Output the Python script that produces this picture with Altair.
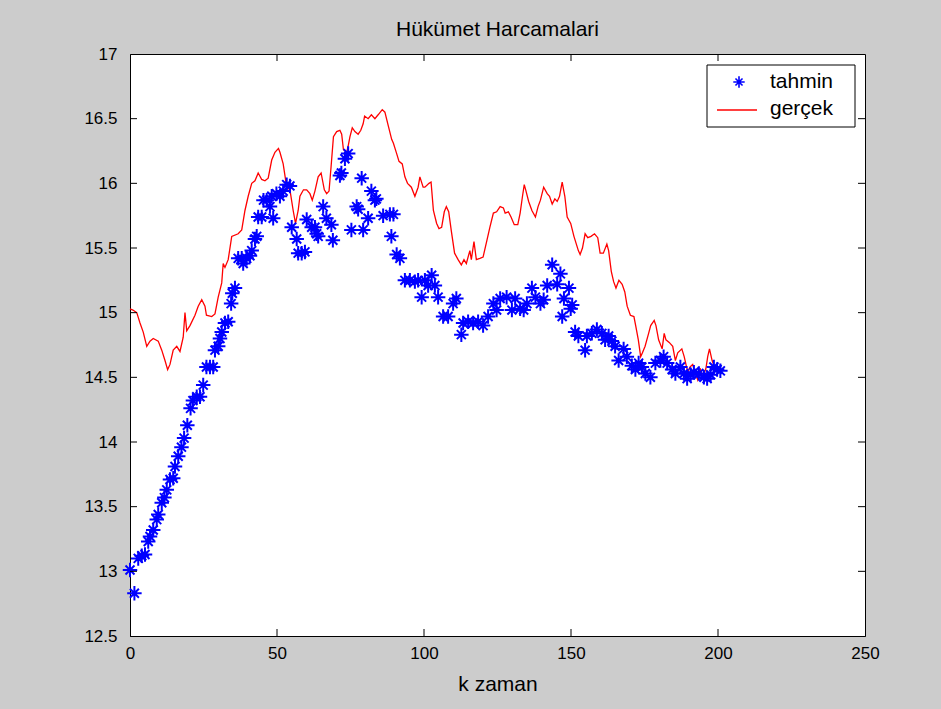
import altair as alt
import pandas as pd

# ---- data ----
red_k = [0, 1, 2.3, 3.4, 4.5, 5.7, 6.8, 7.9, 9.6, 10.8, 11.9, 12.8, 13.6, 14.7, 15.9, 17, 18.1, 18.7,
         19.3, 20.4, 22.1, 23.2, 24.4, 25.5, 26, 27.8, 28.9, 30, 31.2, 31.7, 32.3, 33.4, 34.6, 36.8,
         38, 39.1, 40.2, 41.4, 42.5, 43.6, 44.8, 45.9, 47, 48.2, 49.3, 50.5, 51, 52.1, 53.3, 54.4,
         55.5, 56.3, 57.2, 57.8, 59, 60.1, 61.2, 62, 62.9, 64, 65, 66.1, 66.9, 67.7, 68.4, 69.2, 70.3,
         71.4, 72, 72.6, 73.7, 74.3, 74.8, 75.6, 76.5, 77.6, 78.5, 79.3, 79.8, 81, 82.1, 83.3, 84.4,
         85.8, 86.7, 87.9, 89, 89.6, 90.7, 91.5, 92.6, 93.5, 94.4, 95.7, 96.9, 98, 98.6, 99.7, 100.3,
         101.7, 102.4, 103.2, 104.3, 105.1, 106, 106.9, 107.6, 108.4, 109.3, 110.4, 111.6, 112.7,
         113.6, 114.4, 115.6, 116.1, 117, 117.8, 119, 120.1, 121.3, 122.4, 123.6, 124.7, 125.9, 127,
         127.6, 128.7, 129.6, 130.7, 131.9, 132.7, 133.5, 134.1, 134.7, 135.6, 136.7, 137.9, 138.8,
         139.6, 140.7, 141.9, 142.7, 143.6, 144.5, 145.3, 146.1, 147, 147.9, 148.7, 149.9, 151,
         152.5, 153.1, 153.9, 154.8, 155.7, 156.8, 158, 159.1, 159.9, 161, 162.2, 162.8, 163.7,
         164.5, 165.3, 166.3, 167.4, 168.3, 169.1, 170.2, 171.4, 172, 172.9, 173.7, 174.3, 175.2,
         176.4, 177.1, 178.3, 178.9, 179.8, 181, 181.7, 182.3, 183.4, 184.6, 185.5, 186.3, 187.7,
         188.5, 189.7, 190.5, 191.4, 192.3, 193.1, 193.9, 194.8, 195.9, 196.5, 197.1, 198, 198.8,
         199.4, 200]
red_v = [15.03, 15.02, 15.0, 14.92, 14.85, 14.74, 14.78, 14.80, 14.78, 14.71, 14.63, 14.56, 14.60,
         14.71, 14.74, 14.70, 14.81, 15.0, 14.86, 14.90, 14.98, 15.05, 15.10, 15.05, 14.98, 14.97,
         14.99, 15.12, 15.23, 15.38, 15.35, 15.41, 15.59, 15.61, 15.64, 15.79, 15.90, 16.0, 16.02,
         16.08, 16.03, 16.02, 16.04, 16.18, 16.24, 16.27, 16.24, 16.15, 15.97, 15.95, 15.79, 15.69,
         15.79, 15.90, 15.95, 15.95, 15.92, 15.87, 15.94, 16.05, 16.08, 15.95, 15.92, 15.94, 16.13,
         16.36, 16.40, 16.41, 16.38, 16.26, 16.24, 16.30, 16.36, 16.43, 16.40, 16.38, 16.41, 16.46,
         16.52, 16.50, 16.53, 16.50, 16.53, 16.57, 16.55, 16.44, 16.34, 16.31, 16.23, 16.17, 16.15,
         16.05, 16.0, 15.97, 15.90, 15.97, 16.05, 15.97, 15.97, 16.0, 16.01, 15.79, 15.69, 15.65,
         15.66, 15.78, 15.82, 15.78, 15.63, 15.46, 15.41, 15.37, 15.41, 15.38, 15.48, 15.41, 15.55,
         15.41, 15.42, 15.43, 15.55, 15.66, 15.77, 15.78, 15.82, 15.81, 15.77, 15.78, 15.74, 15.68,
         15.68, 15.77, 15.90, 15.99, 15.94, 15.86, 15.79, 15.74, 15.82, 15.87, 15.97, 15.92, 15.90,
         15.84, 15.88, 15.86, 15.90, 16.01, 15.90, 15.74, 15.69, 15.59, 15.48, 15.45, 15.50, 15.61,
         15.58, 15.59, 15.61, 15.58, 15.46, 15.46, 15.53, 15.48, 15.32, 15.24, 15.19, 15.25, 15.22,
         15.16, 15.05, 14.98, 14.97, 14.90, 14.79, 14.66, 14.69, 14.74, 14.84, 14.90, 14.94, 14.90,
         14.79, 14.72, 14.84, 14.79, 14.77, 14.74, 14.63, 14.69, 14.72, 14.66, 14.54, 14.58, 14.60,
         14.53, 14.48, 14.57, 14.50, 14.57, 14.66, 14.72, 14.63, 14.58, 14.56, 14.55]

blue_k = [0, 1.5, 2.8, 4, 5.1, 6.2, 6.8, 7.9, 9.1, 9.6, 10.8, 11.7, 12.5, 13.6, 14.7, 15.3, 16.4,
          17.5, 18.4, 19.5, 20.6, 21.4, 22.7, 23.8, 24.9, 26, 27.2, 28.3, 28.9, 30, 30.6, 31.2, 32.3,
          33.4, 34.4, 34.8, 35.7, 36.8, 38, 38.5, 39.7, 40.8, 41.4, 42.5, 43.1, 43.6, 44.8, 45.4,
          46.5, 47.6, 48.2, 48.7, 49.8, 51, 52.1, 53.3, 54.4, 55, 56.7, 57.2, 58.4, 59.5, 60.1,
          61.8, 62.9, 63.5, 64, 65.7, 66.8, 68.5, 69, 71.4, 71.9, 73.1, 74.2, 75.3, 77.1, 77.6,
          78.8, 79.3, 81, 82.1, 83.3, 83.8, 86.1, 88.4, 88.9, 89.6, 90.7, 91.8, 93.5, 95.2, 96.9,
          98, 99.2, 100.3, 101.4, 102.6, 103.7, 104.8, 106.5, 108.2, 109.9, 111, 112.7, 113.3, 115,
          116.7, 118.4, 120.1, 121.8, 123.6, 124.7, 125.9, 128.1, 129.9, 131, 132.7, 133.9, 135,
          136.7, 137.9, 139.6, 140.7, 141.9, 143.6, 145.3, 146.4, 147, 147.6, 149.3, 149.9, 150.4,
          151.4, 152.5, 154.8, 155.4, 157.1, 158.8, 160.5, 161.6, 162.8, 163.9, 165, 166.2, 167.9,
          169, 170.7, 171.9, 173, 174.1, 175.3, 177, 178.7, 180.4, 181.5, 182.7, 184.4, 185.5,
          187.2, 188.4, 189.5, 190.7, 191.8, 193.5, 195.2, 196.3, 197.5, 198.6, 199.7, 200.8]
blue_v = [13.01, 12.83, 13.10, 13.12, 13.13, 13.23, 13.27, 13.32, 13.40, 13.44, 13.53, 13.57, 13.63,
          13.71, 13.72, 13.81, 13.89, 13.96, 14.03, 14.13, 14.26, 14.32, 14.35, 14.35, 14.44, 14.58,
          14.58, 14.58, 14.71, 14.74, 14.80, 14.85, 14.92, 14.93, 15.07, 15.15, 15.19, 15.42, 15.42,
          15.38, 15.42, 15.44, 15.48, 15.57, 15.59, 15.74, 15.74, 15.87, 15.87, 15.82, 15.90, 15.73,
          15.92, 15.90, 15.94, 15.99, 15.98, 15.66, 15.57, 15.46, 15.46, 15.47, 15.72, 15.66, 15.66,
          15.61, 15.59, 15.82, 15.73, 15.68, 15.56, 16.06, 16.08, 16.19, 16.23, 15.64, 15.82, 15.80,
          16.04, 15.64, 15.73, 15.94, 15.87, 15.88, 15.75, 15.76, 15.59, 15.76, 15.45, 15.42, 15.25,
          15.25, 15.24, 15.25, 15.12, 15.25, 15.21, 15.29, 15.21, 15.12, 14.97, 14.97, 15.07, 15.11,
          14.83, 14.92, 14.93, 14.92, 14.93, 14.90, 14.97, 15.07, 15.02, 15.11, 15.12, 15.02, 15.11,
          15.03, 15.02, 15.07, 15.19, 15.12, 15.07, 15.10, 15.21, 15.37, 15.22, 15.30, 14.97, 15.11,
          15.19, 15.03, 15.06, 14.85, 14.82, 14.71, 14.82, 14.84, 14.87, 14.84, 14.79, 14.82, 14.78,
          14.74, 14.63, 14.72, 14.66, 14.59, 14.56, 14.61, 14.58, 14.53, 14.50, 14.61, 14.63, 14.66,
          14.61, 14.56, 14.53, 14.58, 14.53, 14.49, 14.52, 14.54, 14.53, 14.50, 14.49, 14.52, 14.58,
          14.56, 14.55]

x_ticks = [0, 50, 100, 150, 200, 250]
y_ticks = [12.5, 13, 13.5, 14, 14.5, 15, 15.5, 16, 16.5, 17]
legend_labels = ["tahmin", "gerçek"]
title_text = "Hükümet Harcamalari"
x_title = "k zaman"

W, H = 735, 582
FONT = "Liberation Sans"
STAR = "M-1,0L1,0M0,-1L0,1M-0.62,-0.62L0.62,0.62M-0.62,0.62L0.62,-0.62"

red_df = pd.DataFrame({"k": red_k, "v": red_v})
blue_df = pd.DataFrame({"k": blue_k, "v": blue_v})
xt_df = pd.DataFrame({"t": x_ticks[1:-1]})
yt_df = pd.DataFrame({"t": y_ticks[1:-1]})
one = pd.DataFrame({"a": [0]})

xs = alt.Scale(domain=[0, 250], nice=False, zero=False)
ys = alt.Scale(domain=[12.5, 17], nice=False, zero=False)

x_axis = alt.Axis(values=x_ticks, tickSize=0, labelFontSize=17, labelFont=FONT, labelColor="black",
                  labelPadding=9, title=x_title, titleFontSize=21, titleFont=FONT,
                  titleFontWeight="normal", titleColor="black", titlePadding=12, grid=False,
                  domainColor="black", labelFlush=False, format="d")
y_axis = alt.Axis(values=y_ticks, tickSize=0, labelFontSize=17, labelFont=FONT, labelColor="black",
                  labelPadding=13, title=None, grid=False, domainColor="black", labelFlush=False,
                  format=".3~g")

line = alt.Chart(red_df).mark_line(color="#FF0000", strokeWidth=1.3, interpolate="linear").encode(
    x=alt.X("k:Q", scale=xs, axis=x_axis),
    y=alt.Y("v:Q", scale=ys, axis=y_axis),
)
stars = alt.Chart(blue_df).mark_point(shape=STAR, size=210, color="#0000FF", filled=False,
                                      strokeWidth=2, opacity=1).encode(
    x=alt.X("k:Q", scale=xs),
    y=alt.Y("v:Q", scale=ys),
)

tk = dict(color="black", strokeWidth=1)
xb = alt.Chart(xt_df).mark_rule(**tk).encode(x=alt.X("t:Q", scale=xs), y=alt.value(H), y2=alt.value(H - 7))
xtp = alt.Chart(xt_df).mark_rule(**tk).encode(x=alt.X("t:Q", scale=xs), y=alt.value(0), y2=alt.value(7))
yl = alt.Chart(yt_df).mark_rule(**tk).encode(y=alt.Y("t:Q", scale=ys), x=alt.value(0), x2=alt.value(7))
yr = alt.Chart(yt_df).mark_rule(**tk).encode(y=alt.Y("t:Q", scale=ys), x=alt.value(W), x2=alt.value(W - 7))

# legend box
lg_box = alt.Chart(one).mark_rect(fill="white", stroke="black", strokeWidth=1).encode(
    x=alt.value(577), x2=alt.value(725), y=alt.value(11), y2=alt.value(73))
lg_star = alt.Chart(one).mark_point(shape=STAR, size=130, color="#0000FF", filled=False,
                                    strokeWidth=1.6, opacity=1).encode(x=alt.value(609), y=alt.value(28))
lg_line = alt.Chart(one).mark_rule(color="#FF0000", strokeWidth=1.3).encode(
    x=alt.value(587), x2=alt.value(627), y=alt.value(56))
lg_t1 = alt.Chart(one).mark_text(text=legend_labels[0], align="left", baseline="middle", fontSize=21,
                                 font=FONT, color="black").encode(x=alt.value(640), y=alt.value(28))
lg_t2 = alt.Chart(one).mark_text(text=legend_labels[1], align="left", baseline="middle", fontSize=21,
                                 font=FONT, color="black").encode(x=alt.value(640), y=alt.value(55))

chart = alt.layer(line, stars, xb, xtp, yl, yr, lg_box, lg_star, lg_line, lg_t1, lg_t2).properties(
    width=W, height=H,
    title=alt.TitleParams(title_text, fontSize=21, font=FONT, fontWeight="normal", color="black",
                          anchor="middle", offset=5),
    padding={"left": 130, "top": 54, "right": 76, "bottom": 73},
    autosize=alt.AutoSizeParams(type="none"),
    background="#CCCCCC",
).configure_view(fill="white", stroke="black", strokeWidth=1).configure_axis(domainWidth=1)

chart.save("out.html", embed_options={"renderer": "svg", "actions": False})
